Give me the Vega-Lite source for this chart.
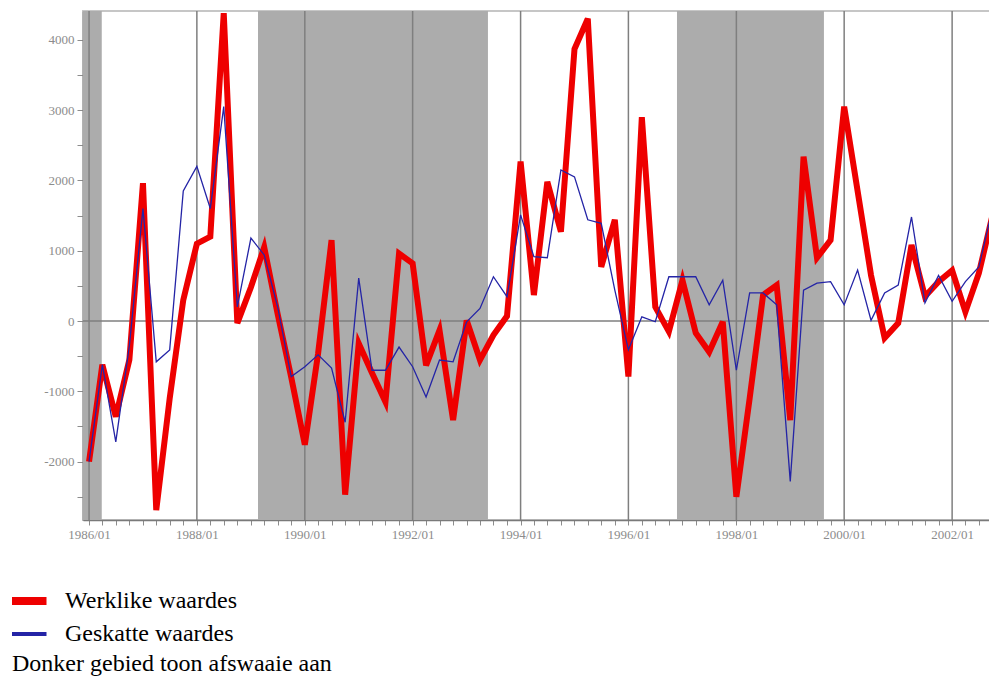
{
  "$schema": "https://vega.github.io/schema/vega-lite/v6.json",
  "width": 909,
  "height": 509,
  "autosize": {"type": "none"},
  "padding": {"left": 83, "top": 11, "right": 0, "bottom": 159},
  "background": "white",
  "config": {
    "view": {"stroke": "#c6c6c6", "strokeWidth": 2},
    "axis": {"labelFont": "Liberation Serif", "labelFontSize": 13, "labelColor": "#8c8c8c", "domainColor": "#7a7a7a", "domainWidth": 1.5, "tickColor": "#8c8c8c", "title": null, "grid": false}
  },
  "resolve": {"axis": {"y": "independent"}},
  "data": {"values": [
    {"kwartaal": "1986-01-01", "werklik": -2000, "geskat": -2000},
    {"kwartaal": "1986-04-01", "werklik": -620, "geskat": -620},
    {"kwartaal": "1986-07-01", "werklik": -1360, "geskat": -1720},
    {"kwartaal": "1986-10-01", "werklik": -550, "geskat": -350},
    {"kwartaal": "1987-01-01", "werklik": 1960, "geskat": 1600},
    {"kwartaal": "1987-04-01", "werklik": -2690, "geskat": -580},
    {"kwartaal": "1987-07-01", "werklik": -1100, "geskat": -410},
    {"kwartaal": "1987-10-01", "werklik": 300, "geskat": 1850},
    {"kwartaal": "1988-01-01", "werklik": 1100, "geskat": 2200},
    {"kwartaal": "1988-04-01", "werklik": 1200, "geskat": 1600},
    {"kwartaal": "1988-07-01", "werklik": 4380, "geskat": 3050},
    {"kwartaal": "1988-10-01", "werklik": -30, "geskat": 200},
    {"kwartaal": "1989-01-01", "werklik": 480, "geskat": 1180},
    {"kwartaal": "1989-04-01", "werklik": 1050, "geskat": 940},
    {"kwartaal": "1989-07-01", "werklik": 100, "geskat": 200},
    {"kwartaal": "1989-10-01", "werklik": -800, "geskat": -790},
    {"kwartaal": "1990-01-01", "werklik": -1760, "geskat": -650},
    {"kwartaal": "1990-04-01", "werklik": -460, "geskat": -480},
    {"kwartaal": "1990-07-01", "werklik": 1150, "geskat": -670},
    {"kwartaal": "1990-10-01", "werklik": -2470, "geskat": -1440},
    {"kwartaal": "1991-01-01", "werklik": -320, "geskat": 610},
    {"kwartaal": "1991-04-01", "werklik": -740, "geskat": -700},
    {"kwartaal": "1991-07-01", "werklik": -1150, "geskat": -700},
    {"kwartaal": "1991-10-01", "werklik": 960, "geskat": -370},
    {"kwartaal": "1992-01-01", "werklik": 820, "geskat": -650},
    {"kwartaal": "1992-04-01", "werklik": -630, "geskat": -1080},
    {"kwartaal": "1992-07-01", "werklik": -130, "geskat": -555},
    {"kwartaal": "1992-10-01", "werklik": -1410, "geskat": -580},
    {"kwartaal": "1993-01-01", "werklik": 10, "geskat": -10},
    {"kwartaal": "1993-04-01", "werklik": -555, "geskat": 180},
    {"kwartaal": "1993-07-01", "werklik": -200, "geskat": 630},
    {"kwartaal": "1993-10-01", "werklik": 70, "geskat": 346},
    {"kwartaal": "1994-01-01", "werklik": 2270, "geskat": 1510},
    {"kwartaal": "1994-04-01", "werklik": 370, "geskat": 915},
    {"kwartaal": "1994-07-01", "werklik": 1980, "geskat": 900},
    {"kwartaal": "1994-10-01", "werklik": 1270, "geskat": 2150},
    {"kwartaal": "1995-01-01", "werklik": 3870, "geskat": 2050},
    {"kwartaal": "1995-04-01", "werklik": 4300, "geskat": 1440},
    {"kwartaal": "1995-07-01", "werklik": 770, "geskat": 1390},
    {"kwartaal": "1995-10-01", "werklik": 1440, "geskat": 440},
    {"kwartaal": "1996-01-01", "werklik": -790, "geskat": -410},
    {"kwartaal": "1996-04-01", "werklik": 2900, "geskat": 60},
    {"kwartaal": "1996-07-01", "werklik": 200, "geskat": -10},
    {"kwartaal": "1996-10-01", "werklik": -150, "geskat": 630},
    {"kwartaal": "1997-01-01", "werklik": 580, "geskat": 630},
    {"kwartaal": "1997-04-01", "werklik": -170, "geskat": 630},
    {"kwartaal": "1997-07-01", "werklik": -440, "geskat": 230},
    {"kwartaal": "1997-10-01", "werklik": -10, "geskat": 580},
    {"kwartaal": "1998-01-01", "werklik": -2500, "geskat": -700},
    {"kwartaal": "1998-04-01", "werklik": -1100, "geskat": 400},
    {"kwartaal": "1998-07-01", "werklik": 370, "geskat": 400},
    {"kwartaal": "1998-10-01", "werklik": 510, "geskat": 230},
    {"kwartaal": "1999-01-01", "werklik": -1410, "geskat": -2280},
    {"kwartaal": "1999-04-01", "werklik": 2340, "geskat": 440},
    {"kwartaal": "1999-07-01", "werklik": 900, "geskat": 540},
    {"kwartaal": "1999-10-01", "werklik": 1150, "geskat": 560},
    {"kwartaal": "2000-01-01", "werklik": 3050, "geskat": 230},
    {"kwartaal": "2000-04-01", "werklik": 1850, "geskat": 725},
    {"kwartaal": "2000-07-01", "werklik": 650, "geskat": 10},
    {"kwartaal": "2000-10-01", "werklik": -240, "geskat": 400},
    {"kwartaal": "2001-01-01", "werklik": -30, "geskat": 510},
    {"kwartaal": "2001-04-01", "werklik": 1080, "geskat": 1480},
    {"kwartaal": "2001-07-01", "werklik": 350, "geskat": 260},
    {"kwartaal": "2001-10-01", "werklik": 560, "geskat": 650},
    {"kwartaal": "2002-01-01", "werklik": 720, "geskat": 280},
    {"kwartaal": "2002-04-01", "werklik": 130, "geskat": 560},
    {"kwartaal": "2002-07-01", "werklik": 680, "geskat": 770},
    {"kwartaal": "2002-10-01", "werklik": 1500, "geskat": 1600}
  ]},
  "layer": [
    {
      "data": {"values": [
        {"begin": "1984-07-01", "einde": "1986-03-28"},
        {"begin": "1989-02-18", "einde": "1993-05-25"},
        {"begin": "1996-11-25", "einde": "1999-08-17"}
      ]},
      "mark": {"type": "rect", "color": "#acacac", "clip": true},
      "encoding": {
        "x": {"field": "begin", "type": "temporal",
          "scale": {"type": "utc", "domain": [{"year": 1985, "month": 11, "date": 21, "utc": true}, {"year": 2002, "month": 9, "date": 28, "utc": true}]},
          "axis": {"tickCount": {"interval": "month", "step": 3}, "labelExpr": "utcmonth(datum.value) == 0 && utcyear(datum.value) % 2 == 0 ? utcFormat(datum.value, '%Y/%m') : ''", "tickSize": 5, "labelPadding": 3, "labelOverlap": false, "labelFlush": false}},
        "x2": {"field": "einde"}
      }
    },
    {
      "data": {"values": [
        {"d": "1986-01-01"}, {"d": "1988-01-01"}, {"d": "1990-01-01"}, {"d": "1992-01-01"}, {"d": "1994-01-01"},
        {"d": "1996-01-01"}, {"d": "1998-01-01"}, {"d": "2000-01-01"}, {"d": "2002-01-01"}
      ]},
      "mark": {"type": "rule", "color": "#7f7f7f", "strokeWidth": 1.5},
      "encoding": {"x": {"field": "d", "type": "temporal"}}
    },
    {
      "data": {"values": [{"nul": 0}]},
      "mark": {"type": "rule", "color": "#7f7f7f", "strokeWidth": 1.5},
      "encoding": {
        "y": {"field": "nul", "type": "quantitative",
          "scale": {"domain": [-2830, 4410], "nice": false, "zero": false},
          "axis": {"orient": "left", "values": [-2000, -1000, 0, 1000, 2000, 3000, 4000], "format": "d", "labelExpr": "replace(datum.label, '\u2212', '-')", "labelOverlap": false, "labelFlush": false, "tickSize": 6, "labelPadding": 3}}
      }
    },
    {
      "mark": {"type": "line", "strokeWidth": 6, "clip": true, "strokeJoin": "miter"},
      "encoding": {
        "x": {"field": "kwartaal", "type": "temporal"},
        "y": {"field": "werklik", "type": "quantitative",
          "axis": {"orient": "left", "values": [-2500, -1500, -500, 500, 1500, 2500, 3500], "labels": false, "domain": false, "tickSize": 6}},
        "color": {"datum": "Werklike waardes",
          "scale": {"domain": ["Werklike waardes", "Geskatte waardes"], "range": ["#ee0000", "#2424a6"]},
          "legend": {"orient": "none", "legendX": -71, "legendY": 577, "direction": "vertical",
            "title": "Donker gebied toon afswaaie aan", "titleOrient": "bottom", "titleAnchor": "start",
            "titleFont": "Liberation Serif", "titleFontSize": 24, "titleFontWeight": "normal", "titleColor": "black", "titlePadding": 5, "titleLimit": 800,
            "labelFont": "Liberation Serif", "labelFontSize": 24, "labelColor": "black", "labelOffset": 29, "labelLimit": 800,
            "symbolType": "M-1.8,0H1.8", "symbolSize": 625, "clipHeight": 26, "rowPadding": 7, "padding": 0,
            "encode": {"symbols": {"update": {
              "strokeWidth": {"signal": "datum.value === 'Werklike waardes' ? 8 : 4"}
            }}}}
        }
      }
    },
    {
      "mark": {"type": "line", "strokeWidth": 1.3, "clip": true},
      "encoding": {
        "x": {"field": "kwartaal", "type": "temporal"},
        "y": {"field": "geskat", "type": "quantitative", "axis": null},
        "color": {"datum": "Geskatte waardes"}
      }
    }
  ]
}
